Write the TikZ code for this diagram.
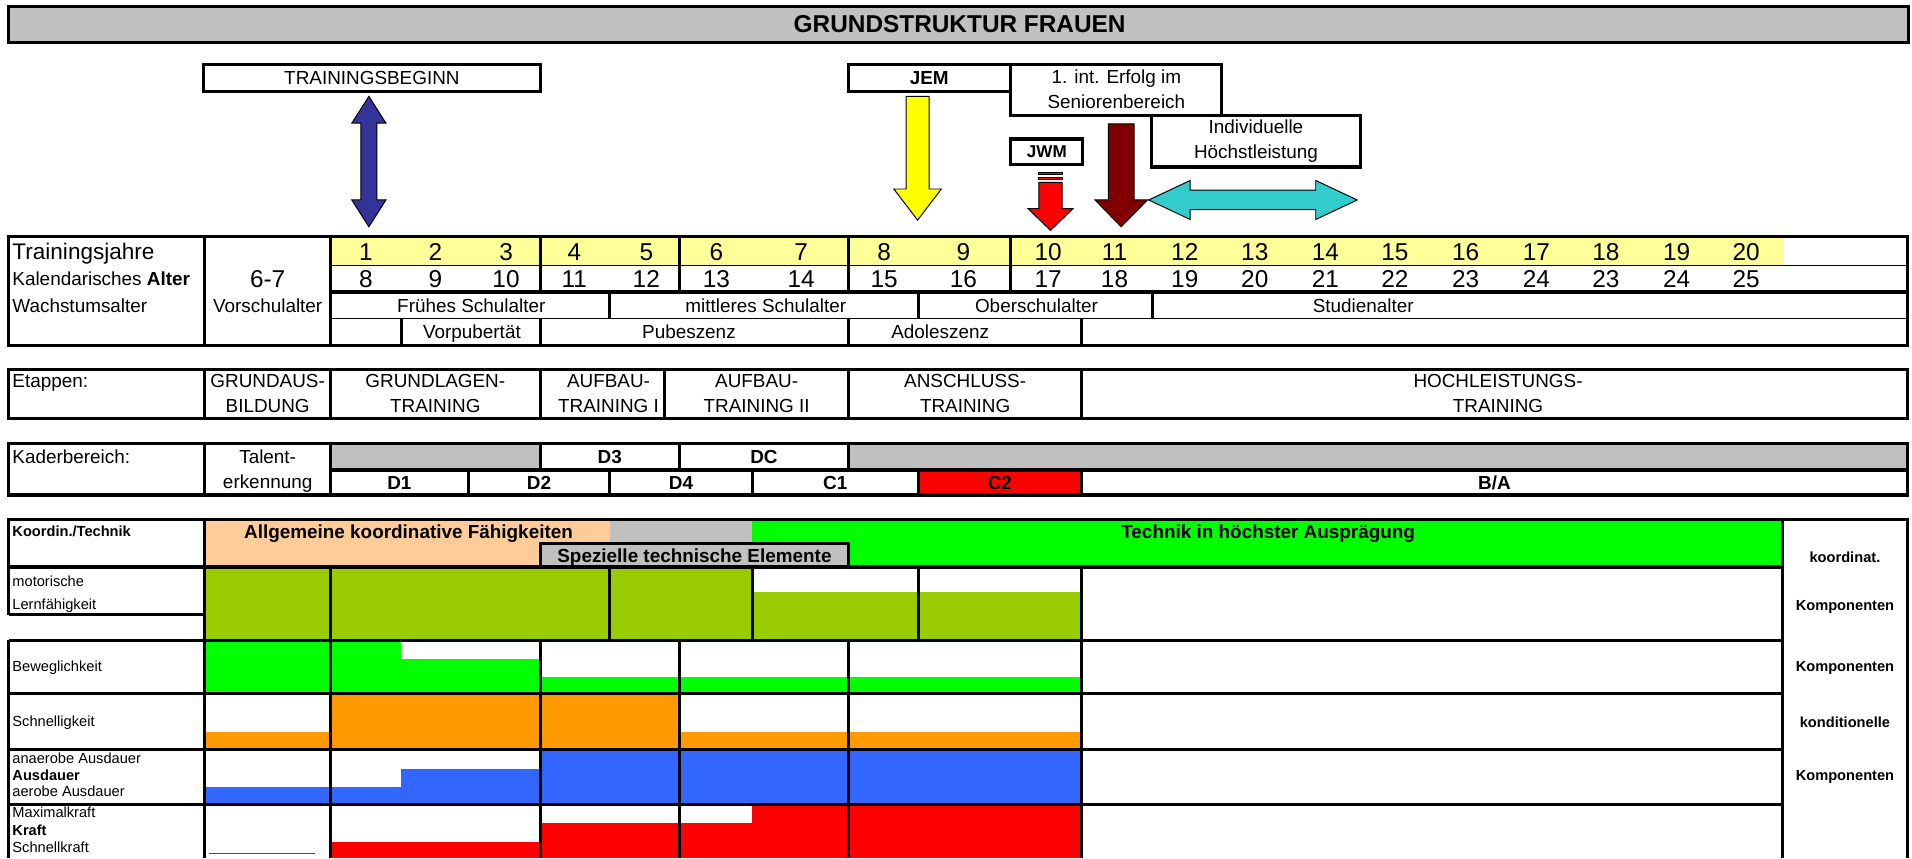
\documentclass[tikz,border=0pt]{standalone}
\usepackage{fontspec}
\setmainfont{Liberation Sans}
\definecolor{tgray}{HTML}{C0C0C0}
\definecolor{tyellow}{HTML}{FFFF99}
\definecolor{arblue}{HTML}{333399}
\definecolor{aryellow}{HTML}{FFFF00}
\definecolor{arred}{HTML}{FF0000}
\definecolor{armaroon}{HTML}{800000}
\definecolor{arcyan}{HTML}{33CCCC}
\definecolor{peach}{HTML}{FFCC99}
\definecolor{lgreen}{HTML}{00FF00}
\definecolor{olive}{HTML}{99CC00}
\definecolor{orng}{HTML}{FF9900}
\definecolor{fblue}{HTML}{3366FF}
\definecolor{fred}{HTML}{FF0000}
\begin{document}
\begin{tikzpicture}[x=1pt,y=-1pt,
  thk/.style={line width=2.6pt},
  thn/.style={line width=1pt},
  arr/.style={draw=black,line width=0.8pt,line join=miter},
  tx/.style={inner sep=0pt,anchor=base,font=\fontsize{15.5}{18}\selectfont},
  txb/.style={inner sep=0pt,anchor=base,font=\bfseries\fontsize{15.5}{18}\selectfont},
  num/.style={inner sep=0pt,anchor=base,font=\fontsize{20}{22}\selectfont},
  lab/.style={inner sep=0pt,anchor=base west,font=\fontsize{15.5}{18}\selectfont},
  sm/.style={inner sep=0pt,anchor=base west,font=\fontsize{12}{14}\selectfont},
  smbw/.style={inner sep=0pt,anchor=base west,font=\bfseries\fontsize{12}{14}\selectfont},
  smb/.style={inner sep=0pt,anchor=base,font=\bfseries\fontsize{12}{14}\selectfont}
]
\useasboundingbox (0,0) rectangle (1568,704);

% ---------- title ----------
\filldraw[fill=tgray,thk] (7,5) rectangle (1565,35);
\node[inner sep=0pt,anchor=base,font=\bfseries\fontsize{20}{24}\selectfont] (title) at (787,27) {GRUNDSTRUKTUR FRAUEN};

% ---------- top boxes ----------
\filldraw[fill=white,thk] (167,53) rectangle (443,75);
\node[tx] (tb) at (305,69.5) {TRAININGSBEGINN};
\filldraw[fill=white,thk] (696,53) rectangle (829,75);
\node[txb] (jem) at (762,69.5) {JEM};
\filldraw[fill=white,thk] (829,53) rectangle (1002,95);
\node[tx] (erf1) at (915.5,68.5) {1. int. Erfolg im};
\node[tx] (erf2) at (915.5,89) {Seniorenbereich};
\filldraw[fill=white,thk] (944,94.5) rectangle (1116,137);
\node[tx] (ind1) at (1030,109.5) {Individuelle};
\node[tx] (ind2) at (1030,130) {Höchstleistung};
\filldraw[fill=white,thk] (829,114) rectangle (888,135);
\node[inner sep=0pt,anchor=base,font=\bfseries\fontsize{14}{16}\selectfont] (jwm) at (858.5,129.5) {JWM};

% ---------- arrows ----------
\filldraw[arr,fill=arblue] (302.5,79) -- (316.5,101) -- (309,101) -- (309,164) -- (316.5,164) -- (302.5,186)
  -- (288.5,164) -- (296,164) -- (296,101) -- (288.5,101) -- cycle;
\filldraw[arr,fill=aryellow] (743,79) -- (762,79) -- (762,155) -- (772,155) -- (752.5,180.5) -- (733,155) -- (743,155) -- cycle;
\filldraw[arr,fill=arred] (852,141.5) rectangle (871,143.5);
\filldraw[arr,fill=arred] (852,145.5) rectangle (871,147.5);
\filldraw[arr,fill=arred] (852,149.5) -- (871,149.5) -- (871,171) -- (880,171) -- (861.5,189) -- (843,171) -- (852,171) -- cycle;
\filldraw[arr,fill=armaroon] (909,101.5) -- (930,101.5) -- (930,164) -- (941,164) -- (919.5,186) -- (898,164) -- (909,164) -- cycle;
\filldraw[arr,fill=arcyan] (942,164) -- (976,148) -- (976,156) -- (1079,156) -- (1079,148) -- (1113,164)
  -- (1079,180) -- (1079,172) -- (976,172) -- (976,180) -- cycle;

% ---------- section 1 ----------
\fill[tyellow] (271,194) rectangle (1463,217.5);
\draw[thn] (271,217.5) -- (1564,217.5);
\draw[thk] (271,239.5) -- (1564,239.5);
\draw[thn] (271,261.5) -- (1564,261.5);
\foreach \xx in {443,557,696,829} \draw[thk] (\xx,194) -- (\xx,239.5);
\foreach \xx in {500,753,945} \draw[thk] (\xx,239.5) -- (\xx,261.5);
\foreach \xx in {329,443,696,887} \draw[thk] (\xx,261.5) -- (\xx,283);
\draw[thk] (168,194) -- (168,283);
\draw[thk] (271,194) -- (271,283);
\draw[thk] (7,194) rectangle (1564,283);

\node[inner sep=0pt,anchor=base west,font=\fontsize{18.5}{21}\selectfont] (tj) at (10,213) {Trainingsjahre};
\node[lab] (ka) at (10,234.5) {Kalendarisches \textbf{Alter}};
\node[lab] (wa) at (10,256.5) {Wachstumsalter};
\node[num] (sechs) at (219.5,235.5) {6-7};
\node[tx] (vsa) at (219.5,256.5) {Vorschulalter};
\foreach \n/\xx/\a in {1/300/8,2/357/9,3/415/10,4/471/11,5/530/12,6/587.5/13,7/657/14,8/725/15,9/790/16,
   10/859.5/17,11/914/18,12/971.6/19,13/1029/20,14/1087/21,15/1144/22,16/1202/23,17/1260/24,18/1317/23,19/1375/24,20/1432/25}
{
  \node[num] (ty\n) at (\xx,213.5) {\n};
  \node[num] (ka\n) at (\xx,235.5) {\a};
}
\node[tx] (fsa) at (386.5,256.5) {Frühes Schulalter};
\node[tx] (msa) at (628,256.5) {mittleres Schulalter};
\node[tx] (osa) at (850,256.5) {Oberschulalter};
\node[tx] (sta) at (1118,256.5) {Studienalter};
\node[tx] (vpb) at (387,278) {Vorpubertät};
\node[tx] (pub) at (565,278) {Pubeszenz};
\node[tx] (ado) at (771,278) {Adoleszenz};

% ---------- section 2 ----------
\foreach \xx in {168,271,443,545,696,887} \draw[thk] (\xx,303) -- (\xx,343);
\draw[thk] (7,303) rectangle (1564,343);
\node[lab] (et) at (10,318) {Etappen:};
\node[tx] (e1a) at (219.5,318) {GRUNDAUS-};
\node[tx] (e1b) at (219.5,338) {BILDUNG};
\node[tx] (e2a) at (357,318) {GRUNDLAGEN-};
\node[tx] (e2b) at (357,338) {TRAINING};
\node[tx] (e3a) at (499,318) {AUFBAU-};
\node[tx] (e3b) at (499,338) {TRAINING I};
\node[tx] (e4a) at (620.5,318) {AUFBAU-};
\node[tx] (e4b) at (620.5,338) {TRAINING II};
\node[tx] (e5a) at (791.5,318) {ANSCHLUSS-};
\node[tx] (e5b) at (791.5,338) {TRAINING};
\node[tx] (e6a) at (1228.5,318) {HOCHLEISTUNGS-};
\node[tx] (e6b) at (1228.5,338) {TRAINING};

% ---------- section 3 ----------
\fill[tgray] (271,364) rectangle (443,385.5);
\fill[tgray] (696,364) rectangle (1564,385.5);
\fill[fred] (753,385.5) rectangle (887,406);
\draw[thk] (271,385.5) -- (1564,385.5);
\foreach \xx in {443,557,696} \draw[thk] (\xx,364) -- (\xx,385.5);
\foreach \xx in {384,500,617,753,887} \draw[thk] (\xx,385.5) -- (\xx,406);
\draw[thk] (168,364) -- (168,406);
\draw[thk] (271,364) -- (271,406);
\draw[thk] (7,364) rectangle (1564,406);
\node[lab] (kb) at (10,380) {Kaderbereich:};
\node[tx] (tal1) at (219.5,380) {Talent-};
\node[tx] (tal2) at (219.5,401) {erkennung};
\node[txb] (d3) at (500,380.5) {D3};
\node[txb] (dc) at (626.5,380.5) {DC};
\node[txb] (d1) at (327.5,401.5) {D1};
\node[txb] (d2) at (442,401.5) {D2};
\node[txb] (d4) at (558.5,401.5) {D4};
\node[txb] (c1) at (685,401.5) {C1};
\node[txb] (c2) at (820,401.5) {C2};
\node[txb] (ba) at (1225.5,401.5) {B/A};

% ---------- section 4: fills ----------
% Koordination / Technik
\fill[peach] (168,426) rectangle (500,446);
\fill[peach] (168,446) rectangle (443,465);
\fill[tgray] (500,426) rectangle (617,446);
\fill[lgreen] (617,426) rectangle (1462,446);
\fill[lgreen] (696,446) rectangle (1462,465);
\filldraw[fill=tgray,thk] (443,446) rectangle (696,465);
% motorische Lernfaehigkeit
\fill[olive] (168,465) rectangle (617,525);
\fill[olive] (617,485.5) rectangle (887,525);
% Beweglichkeit
\fill[lgreen] (168,525) rectangle (329,568.5);
\fill[lgreen] (329,540.5) rectangle (443,568.5);
\fill[lgreen] (443,555) rectangle (887,568.5);
% Schnelligkeit
\fill[orng] (168,600) rectangle (271,614.5);
\fill[orng] (271,568.5) rectangle (557,614.5);
\fill[orng] (557,600) rectangle (887,614.5);
% Ausdauer
\fill[fblue] (168,645.5) rectangle (329,660);
\fill[fblue] (329,630.7) rectangle (443,660);
\fill[fblue] (443,614.5) rectangle (887,660);
% Kraft
\draw[fred,line width=1pt] (171,700) -- (258,700);
\fill[fred] (271,690.5) rectangle (443,704);
\fill[fred] (443,675) rectangle (617,704);
\fill[fred] (617,660) rectangle (887,704);

% ---------- section 4: lines ----------
\draw[thk] (7,426) -- (1564,426);
\draw[thk] (7,424.7) -- (7,504);
\draw[thk] (7,525) -- (7,704);
\draw[line width=2pt] (7,504) -- (168,504);
\draw[thk] (168,426) -- (168,704);
\draw[thk] (1462,426) -- (1462,704);
\draw[thk] (1564,424.7) -- (1564,704);
\foreach \yy in {465,525,568.5,614.5,660} \draw[thk] (7,\yy) -- (1462,\yy);
\foreach \xx in {271,500,617,753,887} \draw[thk] (\xx,465) -- (\xx,525);
\foreach \xx in {271,443,557,696,887} \draw[thk] (\xx,525) -- (\xx,704);

% ---------- section 4: texts ----------
\node[smbw] (kt) at (10,440) {Koordin./Technik};
\node[txb] (akf) at (335,441.5) {Allgemeine koordinative Fähigkeiten};
\node[txb] (ste) at (569.5,461) {Spezielle technische Elemente};
\node[txb] (tha) at (1040,441.5) {Technik in höchster Ausprägung};
\node[sm] (mot1) at (10,481) {motorische};
\node[sm] (mot2) at (10,499.5) {Lernfähigkeit};
\node[sm] (bew) at (10,551) {Beweglichkeit};
\node[sm] (sch) at (10,596) {Schnelligkeit};
\node[sm] (aus1) at (10,626) {anaerobe Ausdauer};
\node[smbw] (aus2) at (10,640) {Ausdauer};
\node[sm] (aus3) at (10,653) {aerobe Ausdauer};
\node[sm] (kr1) at (10,670) {Maximalkraft};
\node[smbw] (kr2) at (10,685) {Kraft};
\node[sm] (kr3) at (10,699) {Schnellkraft};
\node[smb] (r1) at (1513,461) {koordinat.};
\node[smb] (r2) at (1513,501) {Komponenten};
\node[smb] (r3) at (1513,551) {Komponenten};
\node[smb] (r4) at (1513,597) {konditionelle};
\node[smb] (r5) at (1513,640) {Komponenten};
\end{tikzpicture}
\end{document}
